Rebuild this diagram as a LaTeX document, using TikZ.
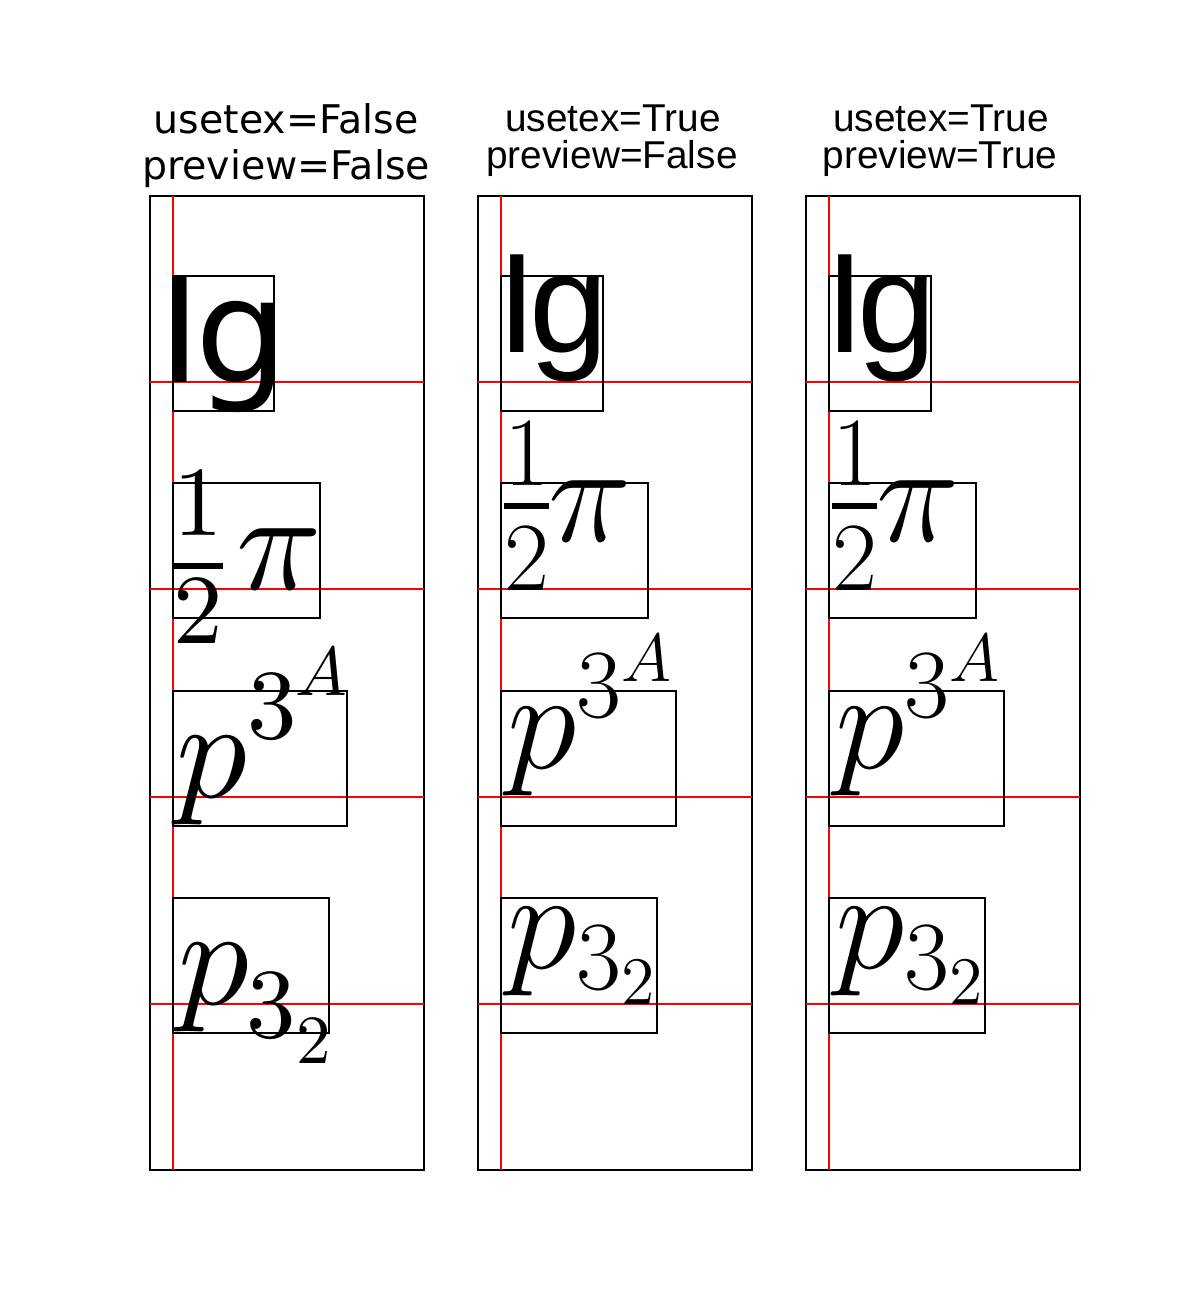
\documentclass[tikz,border=0pt]{standalone}
\usepackage[no-math]{fontspec}
\newfontfamily\dejavu{DejaVu Sans}
\newfontfamily\libsans{Liberation Sans}
\DeclareMathSizes{24.88}{24.88}{17.28}{12}
\newcommand\titlesz{\fontsize{39.5}{46}\selectfont}
\newcommand\ttitlesz{\fontsize{38.8}{36}\selectfont}
% mathtext-like glyphs: 10pt design size, scaled
\newcommand\mtmath[2]{\scalebox{#1}{\fontsize{10}{12}\selectfont$#2$}}
% usetex-like math: large design sizes, scaled
\newcommand\texmath[1]{\scalebox{5.667}{\fontsize{24.88}{24.88}\selectfont\nulldelimiterspace=0pt $#1$}}
\tikzset{
  frame/.style={draw=black, line width=2.5pt},
  bbox/.style={draw=black, line width=2.5pt},
  redline/.style={draw=red, line width=2.3pt},
  lbl/.style={inner sep=0pt, outer sep=0pt},
}
\begin{document}
\begin{tikzpicture}[x=1pt,y=-1pt]
\useasboundingbox (0,0) rectangle (1200,1300);
\fill[white] (0,0) rectangle (1200,1300);

% ---------------- Panel 1 : usetex=False ----------------
\node[lbl, anchor=base] (t1a) at (286,134) {\dejavu\titlesz usetex=False};
\node[lbl, anchor=base] (t1b) at (286,180) {\dejavu\titlesz preview=False};
\draw[frame] (150,196) rectangle (424,1170);
\draw[redline] (173,196) -- (173,1170);
\foreach \yy in {382,589,797,1004} \draw[redline] (150,\yy) -- (424,\yy);
\draw[bbox] (173,276) rectangle (274,411);
\draw[bbox] (173,483) rectangle (320,618);
\draw[bbox] (173,691) rectangle (347,826);
\draw[bbox] (173,898) rectangle (329,1033);
% Ig
\node[lbl, anchor=base west] (a1) at (158,382) {\dejavu\fontsize{145}{145}\selectfont I\kern-5pt g};
% 1/2 pi (mathtext layout)
\node[lbl, anchor=base] (a2n) at (198.5,535) {\mtmath{9.9}{1}};
\draw[line width=6.5pt] (173,566) -- (223,566);
\node[lbl, anchor=base] (a2d) at (198,643) {\mtmath{9.9}{2}};
\node[lbl, anchor=base] (a2p) at (279.5,589) {\mtmath{14.1}{\pi}};
% p^{3^A}
\node[lbl, anchor=base] (a3p) at (212,797) {\mtmath{14.1}{p}};
\node[lbl, anchor=base] (a3t) at (272.5,738) {\mtmath{9.9}{3}};
\node[lbl, anchor=base] (a3a) at (321.5,695) {\mtmath{6.9}{A}};
% p_{3_2}
\node[lbl, anchor=base] (a4p) at (213.5,1004) {\mtmath{14.1}{p}};
\node[lbl, anchor=base] (a4t) at (271,1037) {\mtmath{9.9}{3}};
\node[lbl, anchor=base] (a4w) at (314,1063) {\mtmath{6.9}{2}};

% ---------------- Panels 2 and 3 : usetex=True ----------------
\foreach \dx/\pv/\nm in {0/False/b, 328/True/c}{
  \begin{scope}[xshift=\dx]
    \node[lbl, anchor=base] (\nm t1) at (613,132) {\libsans\ttitlesz usetex=True};
    \node[lbl, anchor=base] (\nm t2) at (612,168) {\libsans\ttitlesz preview=\pv};
    \draw[frame] (478,196) rectangle (752,1170);
    \draw[redline] (501,196) -- (501,1170);
    \foreach \yy in {382,589,797,1004} \draw[redline] (478,\yy) -- (752,\yy);
    \draw[bbox] (501,276) rectangle (603,411);
    \draw[bbox] (501,483) rectangle (648,618);
    \draw[bbox] (501,691) rectangle (676,826);
    \draw[bbox] (501,898) rectangle (657,1033);
    \node[lbl, anchor=south west] (\nm 1) at (497,382) {\libsans\fontsize{142}{142}\selectfont I\kern-7pt g};
    \node[lbl, anchor=south west] (\nm 2) at (504,590) {\texmath{{1\above 1.05pt 2}\pi}};
    \node[lbl, anchor=south west] (\nm 3) at (507,796) {\texmath{p^{3^A}}};
    \node[lbl, anchor=south west] (\nm 4) at (507,1004) {\texmath{p_{3_2}}};
  \end{scope}
}
\end{tikzpicture}
\end{document}
